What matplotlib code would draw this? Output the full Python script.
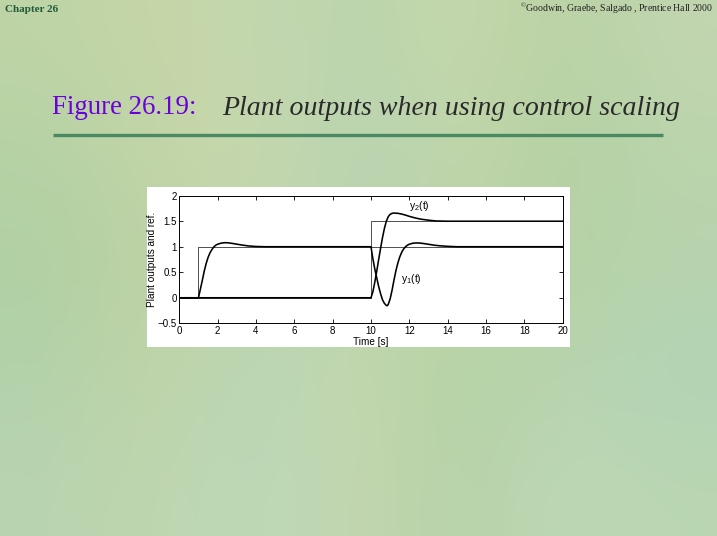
import numpy as np
import matplotlib
matplotlib.use("Agg")
import matplotlib.pyplot as plt

plt.rcParams["mathtext.default"] = "regular"

# ---------------- data ----------------
t_y1 = [0, 1.0, 1.1, 1.2, 1.3, 1.4, 1.5, 1.6, 1.7, 1.8, 1.9, 2.0, 2.2, 2.4, 2.6,
        2.8, 3.0, 3.3, 3.6, 4.0, 4.5,
        10.0, 10.1, 10.2, 10.3, 10.4, 10.5, 10.6, 10.7, 10.8, 10.85, 10.9, 11.0,
        11.1, 11.2, 11.3, 11.4, 11.5, 11.6, 11.7, 11.8, 11.9, 12.0, 12.2, 12.4,
        12.6, 12.8, 13.0, 13.3, 13.6, 14.0, 14.5, 20.0]
y1 = [0, 0, 0.17, 0.34, 0.52, 0.67, 0.79, 0.88, 0.945, 0.995, 1.03, 1.05, 1.072,
      1.08, 1.074, 1.063, 1.05, 1.032, 1.016, 1.005, 1.0,
      1.0, 0.76, 0.56, 0.39, 0.22, 0.08, -0.04, -0.11, -0.15, -0.155, -0.13,
      -0.02, 0.15, 0.35, 0.53, 0.68, 0.80, 0.89, 0.955, 1.0, 1.03, 1.05, 1.07,
      1.075, 1.07, 1.06, 1.048, 1.03, 1.018, 1.008, 1.0, 1.0]

t_y2 = [0, 10.0, 10.1, 10.2, 10.3, 10.4, 10.5, 10.6, 10.7, 10.8, 10.9, 11.0,
        11.1, 11.2, 11.4, 11.6, 11.8, 12.0, 12.3, 12.6, 13.0, 13.4, 14.0, 20.0]
y2 = [0, 0, 0.12, 0.31, 0.52, 0.75, 0.97, 1.18, 1.36, 1.50, 1.59, 1.635,
      1.655, 1.66, 1.655, 1.64, 1.62, 1.595, 1.565, 1.54, 1.52, 1.505, 1.5, 1.5]

t_r1 = [0, 1, 1, 20]
r1 = [0, 0, 1, 1]
t_r2 = [0, 10, 10, 20]
r2 = [0, 0, 1.5, 1.5]

xticks = [0, 2, 4, 6, 8, 10, 12, 14, 16, 18, 20]
yticks = [-0.5, 0, 0.5, 1, 1.5, 2]
ytick_labels = ["\u22120.5", "0", "0.5", "1", "1.5", "2"]

title_num = "Figure 26.19:"
title_txt = "Plant outputs when using control scaling"
header_left = "Chapter 26"
header_right = "Goodwin, Graebe, Salgado , Prentice Hall 2000"

# background colour patches (decorative)
bg = np.array([
    [[190, 212, 166], [198, 214, 166], [196, 216, 176], [186, 212, 172], [198, 216, 172], [184, 210, 164], [194, 214, 176]],
    [[180, 210, 166], [194, 212, 168], [200, 216, 172], [182, 212, 180], [194, 214, 170], [178, 208, 162], [186, 212, 172]],
    [[176, 208, 162], [190, 210, 164], [194, 214, 174], [186, 212, 176], [192, 212, 166], [180, 210, 164], [184, 212, 174]],
    [[178, 210, 172], [194, 212, 166], [182, 214, 184], [198, 216, 172], [178, 210, 164], [186, 212, 176], [176, 212, 182]],
    [[184, 212, 176], [192, 214, 174], [188, 216, 186], [196, 214, 174], [182, 210, 168], [190, 216, 182], [186, 214, 178]],
], dtype=float) / 255.0

# ---------------- figure ----------------
fig = plt.figure(figsize=(7.17, 5.36), dpi=100)

bgax = fig.add_axes([0, 0, 1, 1])
bgax.imshow(bg, aspect="auto", interpolation="bicubic", extent=[0, 1, 0, 1])
bgax.set_xlim(0, 1)
bgax.set_ylim(0, 1)
bgax.axis("off")

W, H = 717.0, 536.0
def fx(px):
    return px / W
def fy(py):
    return 1 - py / H

# header texts
fig.text(fx(5), fy(12), header_left, family="Liberation Serif", weight="bold",
         fontsize=8, color="#1f5a3a", ha="left", va="baseline")
fig.text(fx(713), fy(11.5), "$^{\\copyright}$" + header_right, family="Liberation Serif",
         fontsize=7, color="#202020", ha="right", va="baseline")

# title
fig.text(fx(52.5), fy(114), title_num, family="Liberation Serif",
         fontsize=19.4, color="#6a00dc", ha="left", va="baseline")
fig.text(fx(680), fy(115), title_txt, family="Liberation Serif", style="italic",
         fontsize=20.1, color="#2a2a2a", ha="right", va="baseline")

# green rule under title
bgax.plot([fx(52.5), fx(663)], [fy(135), fy(135)], color="#4a8a62", lw=2.4,
          solid_capstyle="butt")

# white panel
panel = fig.add_axes([fx(146.7), fy(346.5), (570 - 146.7) / W, (346.5 - 186.7) / H])
panel.set_facecolor("white")
panel.set_xticks([])
panel.set_yticks([])
for s in panel.spines.values():
    s.set_visible(False)

# plot axes
ax = fig.add_axes([fx(179.3), fy(323.3), (562.7 - 179.3) / W, (323.3 - 195.7) / H])
ax.set_facecolor("white")
ax.plot(t_r1, r1, color="#333333", lw=0.6)
ax.plot(t_r2, r2, color="#333333", lw=0.6)
ax.plot(t_y1, y1, color="black", lw=1.15)
ax.plot(t_y2, y2, color="black", lw=1.15)
ax.set_xlim(0, 20)
ax.set_ylim(-0.5, 2)
ax.set_xticks(xticks)
ax.set_yticks(yticks)
ax.set_yticklabels(ytick_labels)
ax.tick_params(direction="in", length=3, width=0.6, top=True, right=True,
               labelsize=7, pad=2)
for lab in ax.get_xticklabels() + ax.get_yticklabels():
    lab.set_family("Liberation Sans")
for s in ax.spines.values():
    s.set_linewidth(0.7)
ax.set_xlabel("Time [s]", family="Liberation Sans", fontsize=7.2, labelpad=1)
ax.set_ylabel("Plant outputs and ref.", family="Liberation Sans", fontsize=7.2, labelpad=0)

ax.text(12.5, 1.8, "y$_2$(t)", family="Liberation Sans", fontsize=7.5,
        ha="center", va="center")
ax.text(12.1, 0.36, "y$_1$(t)", family="Liberation Sans", fontsize=7.5,
        ha="center", va="center")

fig.savefig("out.png", dpi=100)
